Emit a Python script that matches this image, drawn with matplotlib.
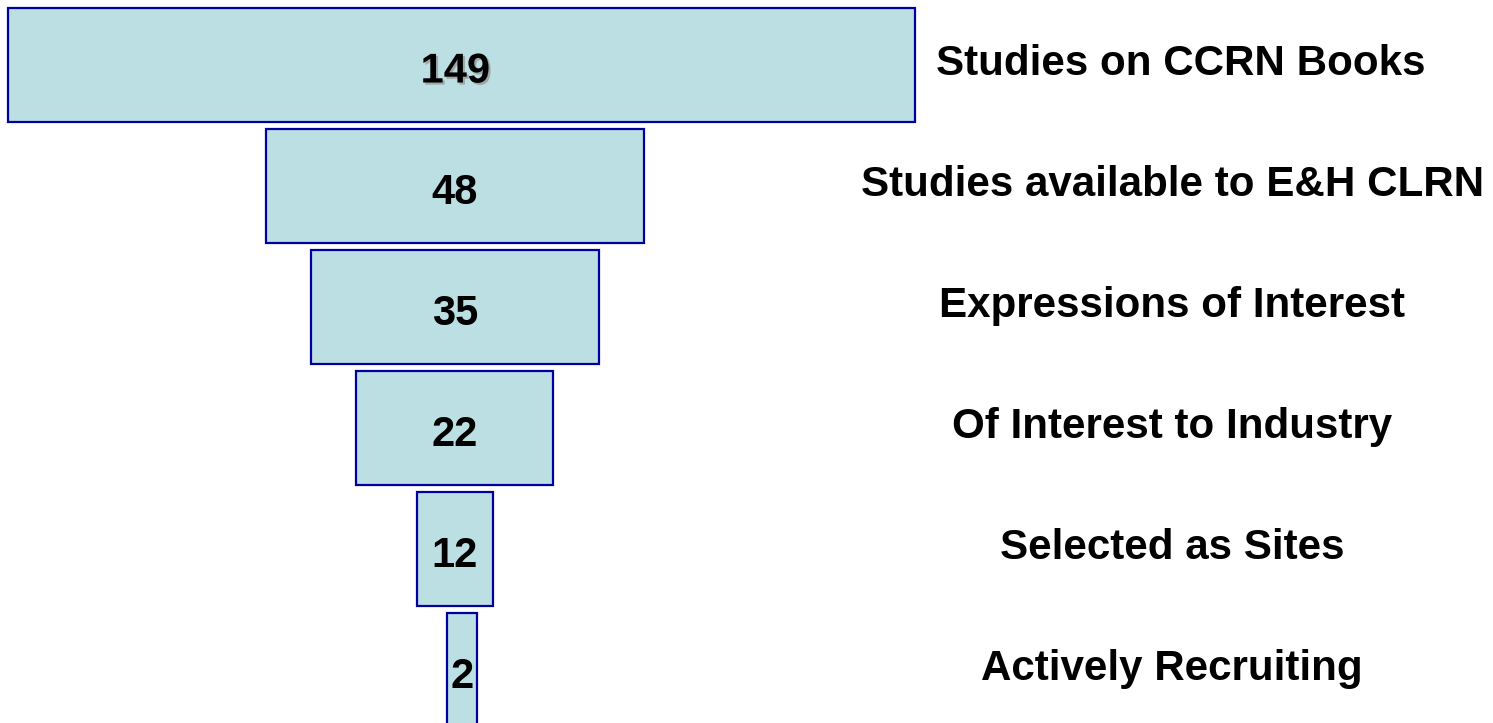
import matplotlib.pyplot as plt
import matplotlib.patheffects as pe

# funnel data
stages = ['Studies on CCRN Books', 'Studies available to E&H CLRN',
          'Expressions of Interest', 'Of Interest to Industry',
          'Selected as Sites', 'Actively Recruiting']
counts = [149, 48, 35, 22, 12, 2]
# drawn widths / left edges of the funnel bars (hand drawn in the original,
# not proportional to counts)
widths = [149, 62.1, 47.3, 32.4, 12.5, 4.9]
lefts = [-74.6, -32.2, -24.8, -17.4, -7.4, -2.5]

plt.rcParams['font.family'] = ['Liberation Sans', 'DejaVu Sans']

fig = plt.figure(figsize=(14.93, 7.23), dpi=100)
ax = fig.add_axes([0, 0, 1, 1])

rows = list(range(len(counts)))
ax.barh(rows, widths, left=lefts, height=0.94,
        color='#bbdfe2', edgecolor='#0000a0', linewidth=1.6)

for i, (c, w, l, s) in enumerate(zip(counts, widths, lefts, stages)):
    tx = l + w / 2
    lx = 116.7
    if i == 0:
        tx = -1.1
        lx = 118.1
    t = ax.text(tx, i + 0.145, str(c), ha='center', va='baseline',
                fontsize=30, fontweight='bold', color='black')
    if i == 0:
        t.set_path_effects([pe.withSimplePatchShadow(offset=(1.5, -1.5),
                                                     shadow_rgbFace='#999999',
                                                     alpha=0.8)])
    ax.text(lx, i + 0.083, s, ha='center', va='baseline',
            fontsize=30.3, fontweight='bold', color='black')

ax.set_xlim(-75.9, 169.4)
ax.set_ylim(5.438, -0.537)
ax.axis('off')

fig.savefig('out.png', dpi=100)
